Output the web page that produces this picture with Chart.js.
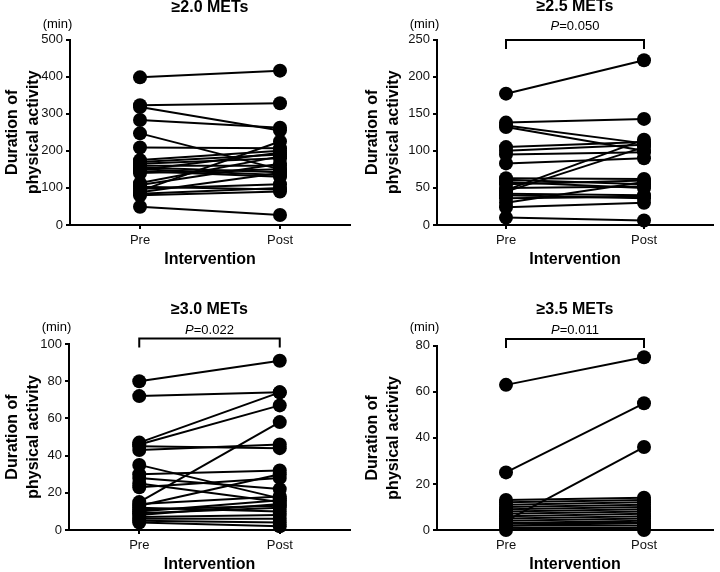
<!DOCTYPE html>
<html>
<head>
<meta charset="utf-8">
<script src="https://cdn.jsdelivr.net/npm/chart.js@4"></script>
<style>
  html, body { margin: 0; padding: 0; background: #fff; width: 720px; height: 572px; overflow: hidden; }
  canvas { position: absolute; }
</style>
</head>
<body>
<canvas id="c1" width="360" height="300" style="left:0px;top:0px"></canvas>
<canvas id="c2" width="360" height="300" style="left:360px;top:0px"></canvas>
<canvas id="c3" width="360" height="300" style="left:0px;top:286px"></canvas>
<canvas id="c4" width="360" height="300" style="left:360px;top:286px"></canvas>
<script>
// ---------- data ----------
const categories = ['Pre', 'Post'];

const titles = ['\u22652.0 METs', '\u22652.5 METs', '\u22653.0 METs', '\u22653.5 METs'];
const pValues = [null, '0.050', '0.022', '0.011'];

const yMax = [500, 250, 100, 80];
const yStep = [100, 50, 20, 20];

const pre20  = [398, 323, 318, 283, 247, 209, 175, 170, 165, 160, 155, 150, 148, 145, 140, 113, 108, 103, 98, 92, 88, 84, 80, 49];
const post20 = [416, 328, 255, 262, 150, 207, 200, 190, 180, 160, 142, 135, 195, 130, 150, 185, 165, 96, 110, 225, 140, 100, 90, 27];

const pre25  = [177, 138, 134, 132, 105, 100, 95, 83, 63, 61, 58, 55, 50, 47, 45, 42, 40, 36, 30, 24, 10];
const post25 = [222, 143, 110, 100, 112, 108, 98, 90, 62, 55, 50, 60, 52, 115, 105, 40, 36, 38, 58, 30, 6];

const pre30  = [80, 72, 47, 46, 45, 43, 35, 30, 28, 25, 23, 15, 14, 13, 12, 11, 10, 9, 8, 7, 6, 5, 4];
const post30 = [91, 74, 74, 67, 44, 46, 17, 32, 22, 15, 28, 58, 18, 30, 10, 13, 16, 12, 14, 8, 6, 4, 2];

const pre35  = [63, 25, 4, 13, 12, 11, 10, 9, 8, 7, 6, 5, 4, 3, 3, 2, 2, 1, 1, 0];
const post35 = [75, 55, 36, 14, 13, 12, 11, 10, 9, 8, 7, 6, 5, 4, 3, 3, 2, 1, 0, 1];

const preSets = [pre20, pre25, pre30, pre35];
const postSets = [post20, post25, post30, post35];

// ---------- layout / style ----------
const FONT = '"Liberation Sans", Arial, Helvetica, sans-serif';
const layouts = [
  { L: 70, R: 10, T: 39.5, B: 26.4, titleY: 7.5, minY: 24, pY: 26, brY: 40 },
  { L: 77, R: 2,  T: 39.5, B: 26.4, titleY: 7,   minY: 24, pY: 26, brY: 40 },
  { L: 69, R: 10, T: 58,   B: 7.4,  titleY: 24,  minY: 41, pY: 44, brY: 52.5 },
  { L: 77, R: 2,  T: 59.7, B: 7.4,  titleY: 24,  minY: 41, pY: 44, brY: 53 }
];
const X_AXIS_H = 48.6;

const panelText = {
  id: 'panelText',
  afterDraw(chart, args, opts) {
    const { ctx, chartArea: a, scales: { x } } = chart;
    ctx.save();
    ctx.fillStyle = '#000';
    ctx.strokeStyle = '#000';
    ctx.textAlign = 'center';
    ctx.textBaseline = 'middle';
    ctx.font = 'bold 16px ' + FONT;
    ctx.fillText(opts.title, (a.left + a.right) / 2, opts.titleY);
    ctx.font = '13px ' + FONT;
    ctx.fillText('(min)', a.left - 12.5, opts.minY);
    if (opts.p) {
      const cx = (a.left + a.right) / 2;
      ctx.font = 'italic 13px ' + FONT;
      const wP = ctx.measureText('P').width;
      ctx.font = '13px ' + FONT;
      const rest = '=' + opts.p;
      const wR = ctx.measureText(rest).width;
      const x0 = cx - (wP + wR) / 2;
      ctx.textAlign = 'left';
      ctx.font = 'italic 13px ' + FONT;
      ctx.fillText('P', x0, opts.pY);
      ctx.font = '13px ' + FONT;
      ctx.fillText(rest, x0 + wP, opts.pY);
      const xa = x.getPixelForValue(0), xb = x.getPixelForValue(1);
      ctx.lineWidth = 2;
      ctx.beginPath();
      ctx.moveTo(xa, opts.brY + 9);
      ctx.lineTo(xa, opts.brY);
      ctx.lineTo(xb, opts.brY);
      ctx.lineTo(xb, opts.brY + 9);
      ctx.stroke();
    }
    ctx.restore();
  }
};

function makePanel(i) {
  const lay = layouts[i];
  const pre = preSets[i], post = postSets[i];
  const datasets = pre.map((v, k) => ({
    data: [v, post[k]],
    borderColor: '#000',
    backgroundColor: '#000',
    borderWidth: 2,
    pointRadius: 7,
    pointBorderWidth: 0,
    pointBackgroundColor: '#000',
    clip: false
  }));
  new Chart(document.getElementById('c' + (i + 1)), {
    type: 'line',
    data: { labels: categories, datasets },
    plugins: [panelText],
    options: {
      responsive: false,
      animation: false,
      devicePixelRatio: 1,
      events: [],
      layout: { padding: { left: 0, right: lay.R, top: lay.T, bottom: lay.B } },
      plugins: {
        legend: { display: false },
        tooltip: { enabled: false },
        title: { display: false },
        panelText: { title: titles[i], p: pValues[i], titleY: lay.titleY, minY: lay.minY, pY: lay.pY, brY: lay.brY }
      },
      scales: {
        x: {
          type: 'category',
          offset: true,
          afterFit: s => { s.height = X_AXIS_H; },
          border: { display: true, color: '#000', width: 2 },
          grid: { display: true, drawOnChartArea: false, drawTicks: true, tickLength: 4, color: '#000', lineWidth: 2, offset: false },
          ticks: { color: '#111', font: { size: 13, family: FONT }, padding: 4, maxRotation: 0 },
          title: { display: true, text: 'Intervention', color: '#000', font: { size: 16, weight: 'bold', family: FONT }, padding: { top: 0, bottom: 4 } }
        },
        y: {
          min: 0,
          max: yMax[i],
          afterFit: s => { s.width = lay.L; },
          border: { display: true, color: '#000', width: 2 },
          grid: { display: true, drawOnChartArea: false, drawTicks: true, tickLength: 4, color: '#000', lineWidth: 2 },
          ticks: { stepSize: yStep[i], color: '#111', font: { size: 13, family: FONT }, padding: 3 },
          title: { display: true, text: ['Duration of', 'physical activity'], color: '#000', font: { size: 16, weight: 'bold', family: FONT, lineHeight: 1.3 }, padding: { top: 2, bottom: 0 } }
        }
      }
    }
  });
}

for (let i = 0; i < 4; i++) makePanel(i);
</script>
</body>
</html>
